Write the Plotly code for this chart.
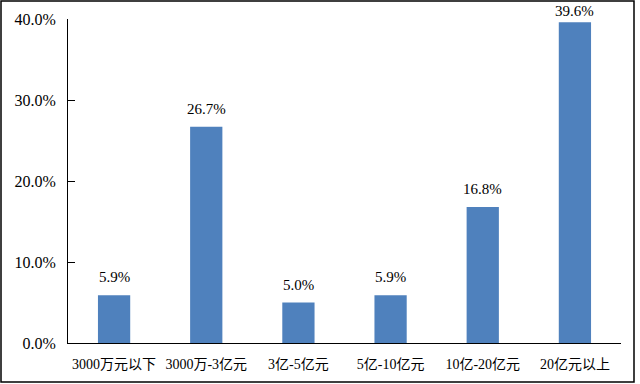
import plotly.graph_objects as go

categories = ["3000万元以下", "3000万-3亿元", "3亿-5亿元", "5亿-10亿元", "10亿-20亿元", "20亿元以上"]
values = [0.059, 0.267, 0.050, 0.059, 0.168, 0.396]
labels = ["5.9%", "26.7%", "5.0%", "5.9%", "16.8%", "39.6%"]

FONT = "Liberation Serif, Noto Sans CJK SC, serif"
YMAX = 0.4

L, R, T, B = 68, 19, 19, 41
pw, ph = 640 - L - R, 384 - T - B

fig = go.Figure()
fig.add_trace(go.Bar(x=categories, y=values, marker_color="#4F81BD", marker_line_width=0,
                     hoverinfo="skip"))

for c, v, t in zip(categories, values, labels):
    # keep label inside the chart: room above the bar top (px) within the figure
    room = (YMAX - v) / YMAX * ph + T
    shift = 8 if room > 30 else 1
    fig.add_annotation(x=c, y=v, text=t, showarrow=False, yanchor="bottom", yshift=shift,
                       font=dict(family=FONT, size=15, color="#000000"))

fig.add_shape(type="rect", xref="paper", yref="paper",
              x0=(1 - L) / pw, x1=(634 - L) / pw,
              y0=(343 - 382) / ph, y1=(343 - 1) / ph,
              line=dict(color="#000000", width=1.5), fillcolor="rgba(0,0,0,0)", layer="below")

fig.update_layout(
    width=640, height=384,
    margin=dict(l=L, r=R, t=T, b=B),
    paper_bgcolor="white", plot_bgcolor="white",
    bargap=0.65, showlegend=False,
    font=dict(family=FONT, size=14, color="#000000"),
)
fig.update_yaxes(range=[0, YMAX], dtick=0.1, tickformat=".1%", showgrid=False,
                 showline=True, linecolor="#000000", linewidth=1,
                 ticks="inside", ticklen=7, tickcolor="#000000",
                 ticklabelstandoff=8, tickfont=dict(size=16), zeroline=False)
fig.update_xaxes(showline=True, linecolor="#000000", linewidth=1, ticks="",
                 showgrid=False, tickfont=dict(size=14), ticklabelstandoff=8)

fig.write_html("out.html", config={"displayModeBar": False},
               post_script="document.body.style.margin='0';document.body.style.overflow='hidden';")
